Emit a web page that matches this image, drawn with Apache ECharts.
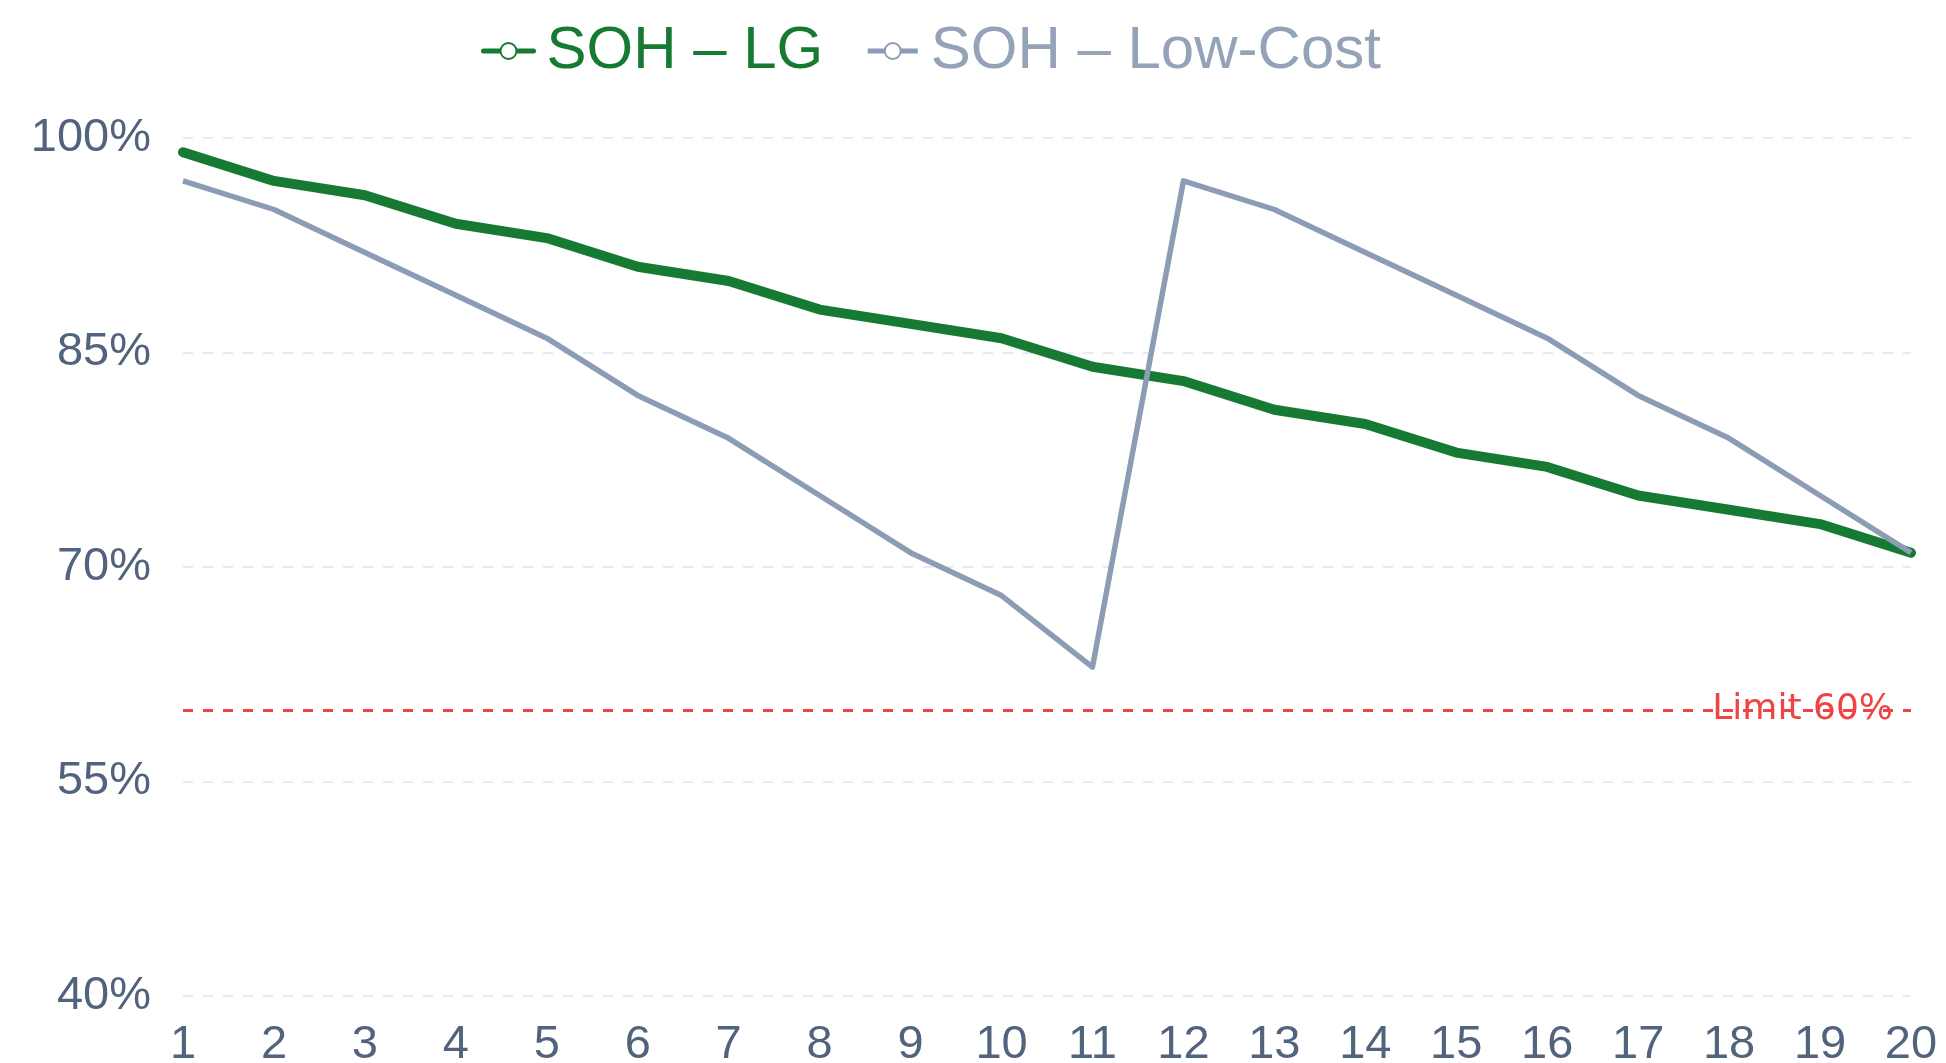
<!DOCTYPE html>
<html>
<head>
<meta charset="utf-8">
<script src="https://cdn.jsdelivr.net/npm/echarts@6/dist/echarts.min.js"></script>
<style>html,body{margin:0;padding:0;background:#fff;}#c{width:1946px;height:1063px;}</style>
</head>
<body>
<div id="c"></div>
<script>
const cycles = ['1','2','3','4','5','6','7','8','9','10','11','12','13','14','15','16','17','18','19','20'];
const sohLG = [99,97,96,94,93,91,90,88,87,86,84,83,81,80,78,77,75,74,73,71];
const sohLowCost = [97,95,92,89,86,82,79,75,71,68,63,97,95,92,89,86,82,79,75,71];
const limitValue = 60;
const limitLabel = 'Limit 60%';
const seriesNames = ['SOH – LG', 'SOH – Low-Cost'];

const green = '#177a32';
const gray = '#8d9cb5';
const labelColor = '#52637d';
const font = '"Liberation Sans", Arial, sans-serif';

const chart = echarts.init(document.getElementById('c'), null, {renderer:'canvas'});
chart.setOption({
  animation: false,
  legend: {
    top: 16,
    left: 476,
    itemWidth: 50,
    itemHeight: 20,
    itemGap: 42,
    lineStyle: {width: 5},
    itemStyle: {borderWidth: 4},
    textStyle: {fontSize: 60, fontFamily: font, padding: [0,0,0,8]},
    data: [
      {name: seriesNames[0], textStyle: {color: green}},
      {name: seriesNames[1], textStyle: {color: '#94a3b8'}}
    ]
  },
  grid: {left: 183, right: 35, top: 138, bottom: 67, containLabel: false, outerBoundsMode: 'none'},
  xAxis: {
    type: 'category',
    data: cycles,
    boundaryGap: false,
    axisLine: {show: false},
    axisTick: {show: false},
    axisLabel: {color: labelColor, fontSize: 47, fontFamily: font, margin: 26}
  },
  yAxis: {
    type: 'value',
    min: 40, max: 100, interval: 15,
    axisLine: {show: false},
    axisTick: {show: false},
    axisLabel: {color: labelColor, fontSize: 47, fontFamily: font, margin: 32, formatter: '{value}%'},
    splitLine: {show: true, lineStyle: {color: '#e6eaf1', type: [10, 10], width: 2}}
  },
  series: [
    {
      name: seriesNames[0], type: 'line', data: sohLG,
      symbol: 'emptyCircle', symbolSize: 16, showSymbol: false,
      itemStyle: {color: green},
      lineStyle: {color: green, width: 10, join: 'round', cap: 'round'},
      z: 3
    },
    {
      name: seriesNames[1], type: 'line', data: sohLowCost,
      symbol: 'emptyCircle', symbolSize: 16, showSymbol: false,
      itemStyle: {color: gray},
      lineStyle: {color: gray, width: 5.5, join: 'round'},
      z: 4,
      markLine: {
        silent: true,
        symbol: 'none',
        lineStyle: {color: '#ef4444', type: [10, 10], width: 3},
        label: {
          show: true, position: 'insideEnd', formatter: limitLabel,
          color: '#ef4444', fontSize: 36, fontFamily: '"DejaVu Sans", sans-serif', distance: 18
        },
        data: [{yAxis: limitValue}]
      }
    }
  ]
});
</script>
</body>
</html>
